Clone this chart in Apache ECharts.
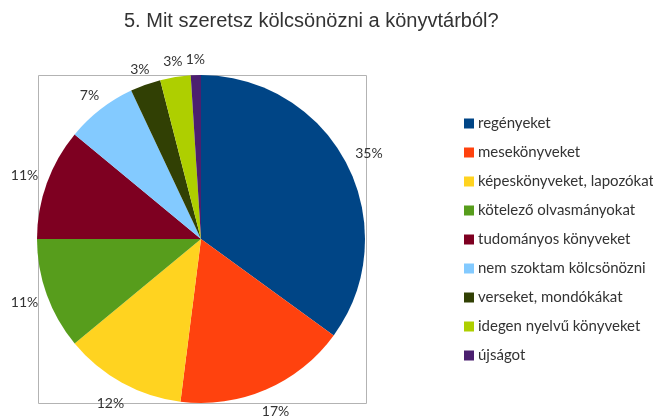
<!DOCTYPE html>
<html>
<head>
<meta charset="utf-8">
<script src="https://cdn.jsdelivr.net/npm/echarts@6/dist/echarts.min.js"></script>
<style>
  html, body { margin: 0; padding: 0; background: #fff; }
  #chart { width: 653px; height: 416px; }
</style>
</head>
<body>
<div id="chart"></div>
<script>
// Survey answers: what pupils like to borrow from the library (percent)
const categories = [
  'regényeket',
  'mesekönyveket',
  'képeskönyveket, lapozókat',
  'kötelező olvasmányokat',
  'tudományos könyveket',
  'nem szoktam kölcsönözni',
  'verseket, mondókákat',
  'idegen nyelvű könyveket',
  'újságot'
];
const values = [35, 17, 12, 11, 11, 7, 3, 3, 1];
const colors = ['#004586', '#ff420e', '#ffd320', '#579d1c', '#7e0021', '#83caff', '#314004', '#aecf00', '#4b1f6f'];
const titleText = '5. Mit szeretsz kölcsönözni a könyvtárból?';

const pieCenter = [201, 239];
const pieRadius = 164;
const labelGap = 9;
const labelTopLeading = 7;

// Push each percentage label out along its slice direction so that the
// nearest edge of its text box sits a fixed gap outside the rim
// (labels below the pie keep a little extra leading above the text).
function placeOutside(params) {
  const r = params.labelRect;
  const cx = r.x + r.width / 2;
  const cy = r.y + r.height / 2;
  let dx = cx - pieCenter[0];
  let dy = cy - pieCenter[1];
  const len = Math.hypot(dx, dy) || 1;
  dx /= len; dy /= len;
  const tx = Math.abs(dx) > 1e-6 ? (r.width / 2) / Math.abs(dx) : Infinity;
  const ty = Math.abs(dy) > 1e-6 ? (r.height / 2) / Math.abs(dy) : Infinity;
  let d = pieRadius + labelGap + Math.min(tx, ty);
  if (ty < tx && dy > 0) d += labelTopLeading;
  return {
    x: pieCenter[0] + dx * d,
    y: pieCenter[1] + dy * d,
    align: 'center',
    verticalAlign: 'middle'
  };
}

const chart = echarts.init(document.getElementById('chart'), null, { renderer: 'canvas' });
chart.setOption({
  animation: false,
  backgroundColor: '#ffffff',
  color: colors,
  title: {
    text: titleText,
    left: 124,
    top: 11,
    padding: 0,
    textStyle: { fontFamily: 'Liberation Sans', fontSize: 20, fontWeight: 'normal', color: '#333333' }
  },
  graphic: [{
    type: 'rect',
    shape: { x: 38.5, y: 75.5, width: 328, height: 328 },
    style: { fill: 'none', stroke: '#b3b3b3', lineWidth: 1 },
    z: 0
  }],
  legend: {
    orient: 'vertical',
    left: 464,
    top: 116,
    padding: 0,
    itemWidth: 10,
    itemHeight: 10,
    itemGap: 14,
    icon: 'rect',
    textStyle: { fontFamily: 'Lato', fontSize: 15, color: '#333333', lineHeight: 14, padding: [0, 0, 0, -1] },
    data: categories
  },
  series: [{
    type: 'pie',
    center: pieCenter,
    radius: [0, pieRadius],
    startAngle: 90,
    clockwise: true,
    data: categories.map((name, i) => ({ name, value: values[i] })),
    itemStyle: { borderWidth: 0 },
    label: {
      show: true,
      position: 'inside',
      formatter: p => p.value + '%',
      fontFamily: 'Lato',
      fontSize: 14,
      color: '#333333',
      textBorderWidth: 0
    },
    labelLine: { show: false },
    labelLayout: placeOutside,
    emphasis: { disabled: true }
  }]
});
</script>
</body>
</html>
